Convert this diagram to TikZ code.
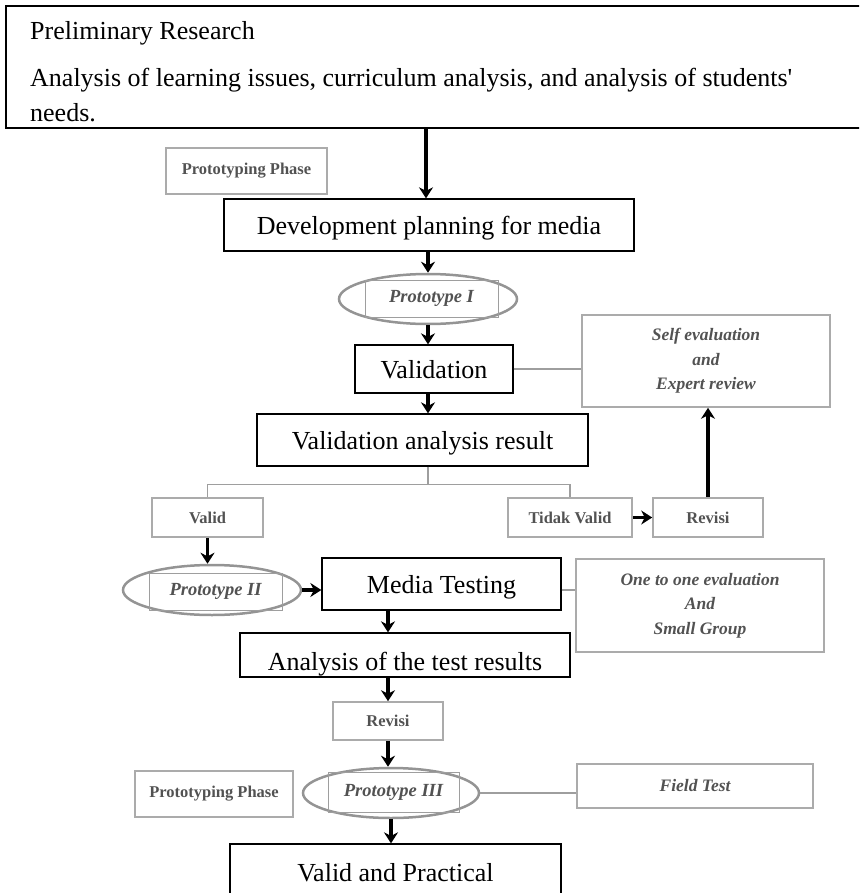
\documentclass[tikz,border=0pt]{standalone}
\usepackage{fontspec}
\setmainfont{Liberation Serif}
\usetikzlibrary{arrows.meta,shapes.geometric}
\newcommand{\straightq}{\XeTeXglyph\XeTeXcharglyph"0027\relax}
\begin{document}
\begin{tikzpicture}[x=1pt,y=-1pt,
 blackbox/.style={draw=black, line width=1.3pt, rectangle, inner sep=0pt, font=\fontsize{26}{30}\selectfont, text height=18pt, text depth=0pt},
 plaintext/.style={inner sep=0pt, font=\fontsize{26}{30}\selectfont, anchor=base west},
 graybox/.style={draw=black!33, line width=1.6pt, rectangle, inner sep=0pt, text=black!68, font=\fontsize{16.5}{20}\selectfont\bfseries},
 italbox/.style={graybox, font=\fontsize{17.5}{24.5}\selectfont\bfseries\itshape, align=center},
 ellip/.style={draw=black!42, line width=2.5pt, ellipse, inner sep=0pt},
 inrect/.style={draw=black!38, line width=1pt, rectangle, inner sep=0pt, text=black!68, font=\fontsize{18.5}{22}\selectfont\bfseries\itshape},
 arr/.style={line width=3.2pt, -{Stealth[length=11pt,width=14pt]}},
 gline/.style={draw=black!38, line width=1.6pt}
]
\path[use as bounding box] (0,0) rectangle (859,893);
\clip (0,0) rectangle (859,893);

% top box
\node[draw=black, line width=1.3pt, rectangle, inner sep=0pt, minimum width=874pt, minimum height=122pt] (top) at (443,67) {};
\node[plaintext] (t1) at (30,40) {Preliminary Research};
\node[plaintext] (t2) at (30,87) {Analysis of learning issues, curriculum analysis, and analysis of students\straightq};
\node[plaintext] (t3) at (30,122) {needs.};

% black boxes
\node[blackbox, minimum width=410pt, minimum height=52pt] (dev) at (429,225) {Development planning for media};
\node[blackbox, minimum width=158pt, minimum height=48pt] (val) at (434,369) {Validation};
\node[blackbox, minimum width=331pt, minimum height=52pt] (var) at (422.5,440) {Validation analysis result};
\node[blackbox, minimum width=239pt, minimum height=52pt] (mt) at (441.5,584) {Media Testing};
\node[blackbox, minimum width=330pt, minimum height=44pt, text height=30pt] (atr) at (405,655) {Analysis of the test results};
\node[blackbox, minimum width=331pt, minimum height=56pt] (vp) at (395.5,872) {Valid and Practical};

% gray boxes
\node[graybox, minimum width=161pt, minimum height=46pt] (pp1) at (246.5,171) {Prototyping Phase};
\node[italbox, minimum width=248pt, minimum height=92pt] (se) at (706,361) {Self evaluation\\and\\Expert review};
\node[graybox, minimum width=111pt, minimum height=39pt] (valid) at (207.5,517.5) {Valid};
\node[graybox, minimum width=124pt, minimum height=39pt] (tv) at (570,517.5) {Tidak Valid};
\node[graybox, minimum width=110pt, minimum height=39pt] (rev1) at (708,517.5) {Revisi};
\node[italbox, minimum width=248pt, minimum height=93pt] (oto) at (700,605.5) {One to one evaluation\\And\\Small Group};
\node[graybox, minimum width=110pt, minimum height=38pt] (rev2) at (388,721) {Revisi};
\node[graybox, minimum width=158pt, minimum height=46pt] (pp2) at (214,794) {Prototyping Phase};
\node[italbox, minimum width=236pt, minimum height=44pt] (ft) at (695,786) {Field Test};

% ellipses with inner rectangles
\node[ellip, minimum width=178pt, minimum height=50pt] (e1) at (428,299) {};
\node[inrect, minimum width=133pt, minimum height=37pt] (e1t) at (431.5,298.5) {Prototype I};
\node[ellip, minimum width=178pt, minimum height=50pt] (e2) at (212,590) {};
\node[inrect, minimum width=133pt, minimum height=37pt] (e2t) at (215.5,591.5) {Prototype II};
\node[ellip, minimum width=176pt, minimum height=50pt] (e3) at (391,793) {};
\node[inrect, minimum width=131pt, minimum height=40pt] (e3t) at (393.5,792) {Prototype III};

% connectors
\draw[arr] (top.south -| 426,0) -- (dev.north -| 426,0);
\draw[arr] (dev.south -| e1.north) -- (e1.north);
\draw[arr] (e1.south) -- (e1.south |- val.north);
\draw[gline] (val.east) -- (val.east -| se.west);
\draw[arr] (e1.south |- val.south) -- (e1.south |- var.north);
\draw[gline] (e1.south |- var.south) -- ++(0,18) coordinate (br);
\draw[gline] (valid.north) |- (br) -| (tv.north);
\draw[arr] (valid.south) -- (valid.south |- e2.north);
\draw[arr] (tv.east) -- (rev1.west);
\draw[arr] (rev1.north) -- (rev1.north |- se.south);
\draw[arr] (e2.east) -- (e2.east -| mt.west);
\draw[gline] (mt.east |- 0,590) -- (oto.west |- 0,590);
\draw[arr] (rev2.north |- mt.south) -- (rev2.north |- atr.north);
\draw[arr] (rev2.north |- atr.south) -- (rev2.north);
\draw[arr] (rev2.south) -- (rev2.south |- e3.north);
\draw[gline] (e3.east) -- (e3.east -| ft.west);
\draw[arr] (e3.south) -- (e3.south |- vp.north);
\end{tikzpicture}
\end{document}
